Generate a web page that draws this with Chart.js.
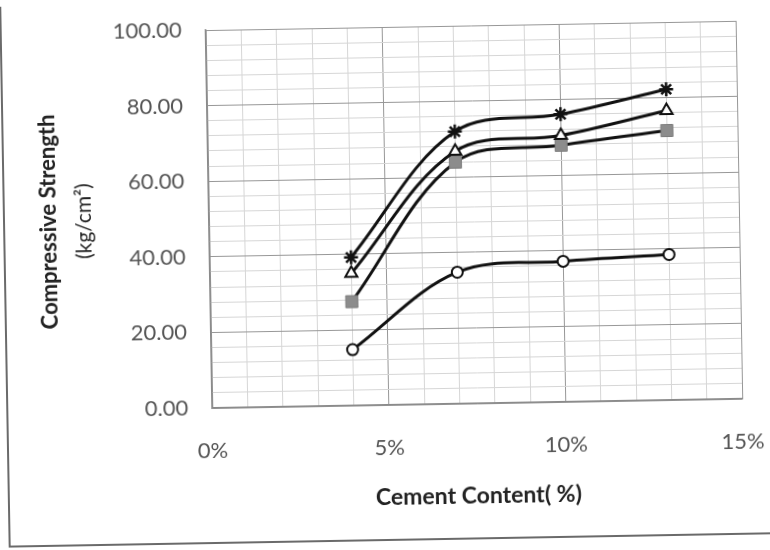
<!DOCTYPE html>
<html>
<head>
<meta charset="utf-8">
<script src="https://cdn.jsdelivr.net/npm/chart.js@4.4.0/dist/chart.umd.min.js"></script>
<style>
  html, body { margin: 0; padding: 0; background: #fff; overflow: hidden; }
  #wrap { width: 770px; height: 550px; transform: rotate(-1deg); transform-origin: 385px 275px; }
  canvas { display: block; }
</style>
</head>
<body>
<div id="wrap"><canvas id="chart" width="770" height="550"></canvas></div>
<script>
// Cement content (%) at which specimens were tested
const cementContent = [4, 7, 10, 13];

// Compressive strength (kg/cm²) for each mix series
const strengthStar     = [39.2, 72.0, 76.1, 82.2];
const strengthTriangle = [35.0, 66.8, 70.5, 76.6];
const strengthSquare   = [27.5, 63.9, 67.9, 71.3];
const strengthCircle   = [14.8, 34.8, 37.2, 38.5];

// Axis tick settings
const xTickLabels = [0, 5, 10, 15];
const yTickLabels = [0, 20, 40, 60, 80, 100];

const FONT = 'Lato, "Open Sans", "Liberation Sans", sans-serif';

const toPoints = values => cementContent.map((x, i) => ({ x: x, y: values[i] }));

// Outer chart frame and the two-line y-axis title
const decorations = {
  id: 'decorations',
  beforeDraw(chart) {
    const ctx = chart.ctx;
    ctx.save();
    ctx.strokeStyle = '#6a6a6a';
    ctx.lineWidth = 2;
    ctx.strokeRect(5, -20, 820, 560);
    ctx.restore();
  },
  afterDraw(chart) {
    const ctx = chart.ctx;
    const cy = (chart.chartArea.top + chart.chartArea.bottom) / 2;
    ctx.save();
    ctx.fillStyle = '#222';
    ctx.textAlign = 'center';
    ctx.textBaseline = 'middle';
    ctx.translate(50, cy);
    ctx.rotate(-Math.PI / 2);
    ctx.font = 'bold 22px ' + FONT;
    ctx.fillText('Compressive Strength', 0, 0);
    ctx.font = '21px ' + FONT;
    ctx.fillText('(kg/cm²)', 0, 35);
    ctx.restore();
  }
};

const lineBase = {
  borderColor: '#111',
  borderWidth: 3,
  tension: 0.35,
  fill: false
};

new Chart(document.getElementById('chart'), {
  type: 'line',
  data: {
    datasets: [
      Object.assign({}, lineBase, {
        label: 'Triangle',
        data: toPoints(strengthTriangle),
        pointStyle: 'triangle',
        pointRadius: 7,
        pointBackgroundColor: '#fff',
        pointBorderColor: '#111',
        pointBorderWidth: 2
      }),
      Object.assign({}, lineBase, {
        label: 'Star',
        data: toPoints(strengthStar),
        pointStyle: 'star',
        pointRadius: 7,
        pointBackgroundColor: '#111',
        pointBorderColor: '#111',
        pointBorderWidth: 2.5
      }),
      Object.assign({}, lineBase, {
        label: 'Square',
        data: toPoints(strengthSquare),
        pointStyle: 'rect',
        pointRadius: 8.5,
        pointBackgroundColor: '#8c8c8c',
        pointBorderColor: '#7c7c7c',
        pointBorderWidth: 1
      }),
      Object.assign({}, lineBase, {
        label: 'Circle',
        data: toPoints(strengthCircle),
        pointStyle: 'circle',
        pointRadius: 5.5,
        pointBackgroundColor: '#fff',
        pointBorderColor: '#111',
        pointBorderWidth: 2
      })
    ]
  },
  options: {
    responsive: false,
    devicePixelRatio: 1,
    animation: false,
    layout: { padding: { left: 0, right: 30, top: 27, bottom: 0 } },
    plugins: {
      legend: { display: false },
      tooltip: { enabled: false }
    },
    scales: {
      x: {
        type: 'linear',
        min: 0,
        max: 15,
        afterFit: scale => {
          scale.height = 145;
          scale.paddingLeft = 0;
          scale.paddingRight = 0;
        },
        ticks: {
          stepSize: 1,
          autoSkip: false,
          maxRotation: 0,
          padding: 30,
          color: '#555',
          font: { family: FONT, size: 22 },
          callback: v => xTickLabels.includes(v) ? v + '%' : ''
        },
        grid: {
          drawTicks: false,
          lineWidth: 1,
          color: c => (c.tick && xTickLabels.includes(c.tick.value)) ? '#979797' : '#d6d6d6'
        },
        border: { display: true, color: '#8a8a8a', width: 1.5 },
        title: {
          display: true,
          text: 'Cement Content( %)',
          color: '#222',
          font: { family: FONT, size: 23, weight: 'bold' },
          padding: { top: 0, bottom: 39 }
        }
      },
      y: {
        min: 0,
        max: 100,
        afterFit: scale => {
          scale.width = 210;
          scale.paddingTop = 0;
          scale.paddingBottom = 0;
        },
        ticks: {
          stepSize: 4,
          autoSkip: false,
          padding: 24,
          color: '#555',
          font: { family: FONT, size: 22 },
          callback: v => yTickLabels.includes(v) ? v.toFixed(2) : ''
        },
        grid: {
          drawTicks: false,
          lineWidth: 1,
          color: c => (c.tick && yTickLabels.includes(c.tick.value)) ? '#979797' : '#d6d6d6'
        },
        border: { display: true, color: '#8a8a8a', width: 1.5 }
      }
    }
  },
  plugins: [decorations]
});
</script>
</body>
</html>
